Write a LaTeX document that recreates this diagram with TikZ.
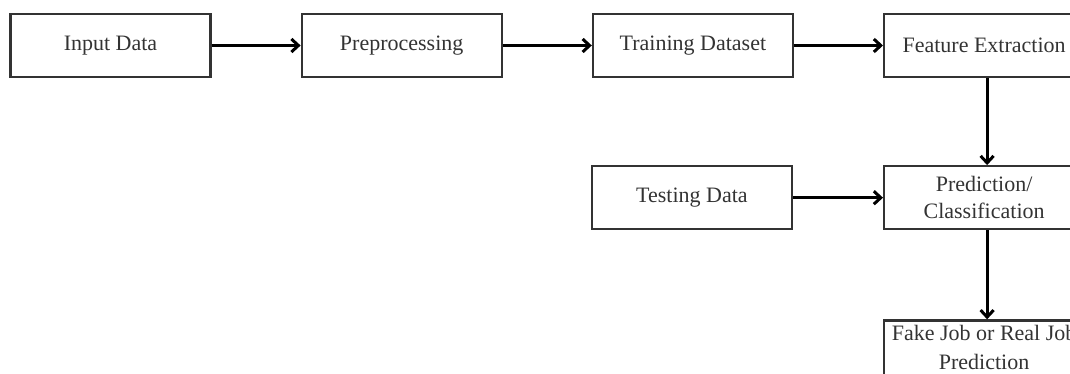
\documentclass[tikz,border=0pt]{standalone}
\usepackage{fontspec}
\setmainfont{Liberation Serif}
\usepackage{tikz}
\usetikzlibrary{arrows,positioning,shapes}
\usetikzlibrary{calc,arrows.meta}

\definecolor{boxcol}{rgb}{0.2,0.2,0.2}
\tikzset{
  stagebox/.style={draw=boxcol,line width=2.2pt,rectangle,minimum width=200pt,
    minimum height=63pt,inner sep=0pt,align=center,text=boxcol,
    font=\fontsize{22}{27}\selectfont},
  flow/.style={line width=3.2pt,-{Straight Barb[length=7pt,width=13pt,line width=3pt]}},
}

\begin{document}
\begin{tikzpicture}[node distance=89pt and 89pt]
\useasboundingbox (0pt,0pt) rectangle (1070pt,-374pt);
%%
  % Node: input
  \node[stagebox] (input) at (110.5pt,-45.5pt) {Input Data};
  % Node: prep
  \node[stagebox, right=of input] (prep) {Preprocessing};
  % Node: train
  \node[stagebox, right=of prep] (train) {Training Dataset};
  % Node: feat
  \node[stagebox, right=of train] (feat) {Feature Extraction};
  % Node: pred
  \node[stagebox, below=87pt of feat] (pred) {Prediction/\\Classification};
  % Node: test
  \node[stagebox, left=90pt of pred] (test) {Testing Data};
  % Node: result
  \node[stagebox, below=89pt of pred, minimum height=55pt,
    font=\fontsize{22}{29}\selectfont] (result) {Fake Job or Real Job\\Prediction};
%
  % Edge: input -> prep
  \draw[flow] (input) -- (prep);
  % Edge: prep -> train
  \draw[flow] (prep) -- (train);
  % Edge: train -> feat
  \draw[flow] (train) -- (feat);
  % Edge: feat -> pred
  \draw[flow] ([xshift=3pt]feat.south) -- ([xshift=3pt]pred.north);
  % Edge: test -> pred
  \draw[flow] (test) -- (pred);
  % Edge: pred -> result
  \draw[flow] ([xshift=3pt]pred.south) -- ([xshift=3pt]result.north);
%
\end{tikzpicture}
\end{document}
